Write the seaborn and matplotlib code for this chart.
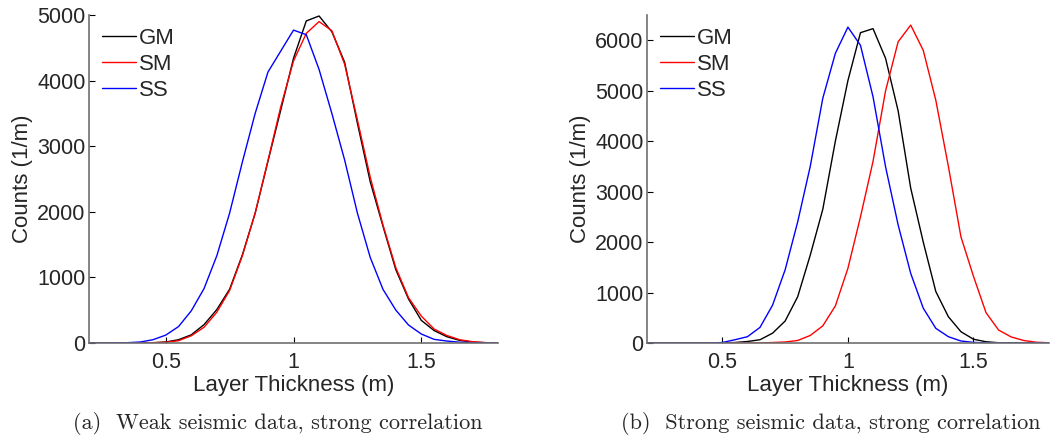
import matplotlib
matplotlib.use("Agg")
import matplotlib.pyplot as plt
import seaborn as sns
import pandas as pd

# --- Données ---
thickness = [0.20, 0.25, 0.30, 0.35, 0.40, 0.45, 0.50, 0.55, 0.60, 0.65, 0.70,
             0.75, 0.80, 0.85, 0.90, 0.95, 1.00, 1.05, 1.10, 1.15, 1.20, 1.25,
             1.30, 1.35, 1.40, 1.45, 1.50, 1.55, 1.60, 1.65, 1.70, 1.75, 1.80]

# (a) Weak seismic data
weak_gm = [0, 0, 0, 0, 2, 5, 15, 50, 125, 280, 510, 820, 1345, 1980, 2770, 3550,
           4340, 4910, 4985, 4745, 4280, 3350, 2460, 1780, 1120, 670, 345, 190,
           96, 40, 15, 5, 0]
weak_sm = [0, 0, 0, 0, 1, 4, 12, 35, 110, 240, 470, 800, 1330, 1980, 2780, 3600,
           4300, 4720, 4900, 4760, 4250, 3400, 2530, 1800, 1150, 690, 410, 213,
           115, 50, 20, 6, 0]
weak_ss = [0, 0, 0, 5, 15, 50, 120, 250, 490, 830, 1330, 1980, 2760, 3500, 4130,
           4450, 4770, 4700, 4170, 3500, 2790, 1980, 1306, 818, 503, 274, 137, 56,
           30, 12, 5, 0, 0]

# (b) Strong seismic data
strong_gm = [0, 0, 0, 0, 0, 0, 3, 10, 30, 65, 195, 435, 917, 1740, 2650, 4000,
             5200, 6150, 6230, 5640, 4600, 3070, 2000, 1020, 521, 224, 75, 25, 5,
             0, 0, 0, 0]
strong_sm = [0, 0, 0, 0, 0, 0, 0, 0, 0, 2, 10, 20, 50, 150, 340, 735, 1480, 2500,
             3600, 5000, 5970, 6300, 5800, 4810, 3500, 2105, 1320, 600, 257, 120,
             50, 15, 5]
strong_ss = [0, 0, 0, 0, 0, 0, 10, 65, 125, 310, 750, 1450, 2400, 3500, 4850,
             5740, 6260, 5900, 4880, 3490, 2340, 1380, 690, 291, 125, 40, 12, 3,
             0, 0, 0, 0, 0]

methods = ["GM", "SM", "SS"]
couleurs = {"GM": "black", "SM": "red", "SS": "blue"}
captions = ["(a)  Weak seismic data, strong correlation",
            "(b)  Strong seismic data, strong correlation"]


def to_long(gm, sm, ss):
    frames = []
    for m, vals in zip(methods, [gm, sm, ss]):
        frames.append(pd.DataFrame({"x": thickness, "y": vals, "method": m}))
    return pd.concat(frames, ignore_index=True)


sns.set_style("ticks")
plt.rcParams["font.family"] = ["Liberation Sans", "DejaVu Sans"]
plt.rcParams["font.size"] = 15.5

fig = plt.figure(figsize=(10.52, 4.43), dpi=100)
ax1 = fig.add_axes([0.0846, 0.2257, 0.3888, 0.7404])
ax2 = fig.add_axes([0.615, 0.2257, 0.382, 0.7404])

panels = [
    (ax1, to_long(weak_gm, weak_sm, weak_ss), 5000, range(0, 5001, 1000)),
    (ax2, to_long(strong_gm, strong_sm, strong_ss), 6500, range(0, 6001, 1000)),
]

for ax, df, ytop, yt in panels:
    sns.lineplot(data=df, x="x", y="y", hue="method", hue_order=methods,
                 palette=couleurs, linewidth=1.0, ax=ax)
    ax.set_xlim(0.2, 1.8)
    ax.set_ylim(0, ytop)
    ax.set_xticks([0.5, 1, 1.5])
    ax.set_xticklabels(["0.5", "1", "1.5"])
    ax.set_yticks(list(yt))
    ax.set_xlabel("Layer Thickness (m)", fontsize=16, labelpad=1.5)
    ax.set_ylabel("Counts (1/m)", fontsize=16, labelpad=3)
    ax.tick_params(direction="in", length=4, width=0.8, color="black",
                   labelsize=15.5)
    ax.tick_params(axis="x", pad=6.5)
    ax.tick_params(axis="y", pad=2.5)
    for s in ["top", "right"]:
        ax.spines[s].set_visible(False)
    for s in ["left", "bottom"]:
        ax.spines[s].set_color("#707070")
        ax.spines[s].set_linewidth(1.2)
    ax.legend(loc="upper left", bbox_to_anchor=(0.033, 0.96), frameon=False,
              handlelength=1.5, handletextpad=0.15, labelspacing=0.22,
              borderaxespad=0, borderpad=0, fontsize=16)

fig.text(0.264, 0.043, captions[0], ha="center", va="center",
         fontfamily="cmr10", fontsize=16)
fig.text(0.79, 0.043, captions[1], ha="center", va="center",
         fontfamily="cmr10", fontsize=16)

plt.savefig("out.png", dpi=100)
